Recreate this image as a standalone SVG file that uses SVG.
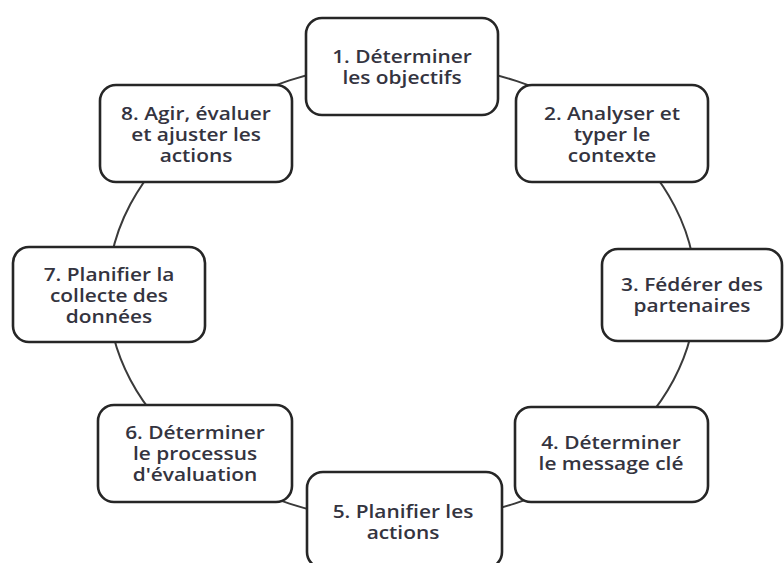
<svg xmlns="http://www.w3.org/2000/svg" width="784" height="563" viewBox="0 0 784 563">
<style>
.box{fill:#fff;stroke:#262626;stroke-width:2.6}
.lbl{font-family:"Open Sans","Noto Sans",sans-serif;font-size:18px;font-weight:600;fill:#34343f;text-anchor:middle}
.conn{fill:none;stroke:#3a3a3a;stroke-width:2}
</style>
<rect width="784" height="563" fill="#fff"/>
<g id="connectors">
<path class="conn" d="M402,63 A294,229 0 0,1 613.5,132.8"/>
<path class="conn" d="M613.5,132.8 A294,229 0 0,1 696,292"/>
<path class="conn" d="M696,292 A294,229 0 0,1 610,454"/>
<path class="conn" d="M610,454 A294,229 0 0,1 402,521"/>
<path class="conn" d="M402,521 A294,229 0 0,1 194,454"/>
<path class="conn" d="M194,454 A294,229 0 0,1 108,292"/>
<path class="conn" d="M108,292 A294,229 0 0,1 194,130"/>
<path class="conn" d="M194,130 A294,229 0 0,1 402,63"/>
</g>
<g id="node1">
<rect class="box" x="306" y="18" width="192" height="97" rx="16"/>
<g transform="translate(402,0) scale(1.16,1)">
<text class="lbl" x="0" y="63">1. Déterminer</text>
<text class="lbl" x="0" y="84">les objectifs</text>
</g>
</g>
<g id="node2">
<rect class="box" x="516" y="85" width="192" height="97" rx="16"/>
<g transform="translate(612,0) scale(1.16,1)">
<text class="lbl" x="0" y="120">2. Analyser et</text>
<text class="lbl" x="0" y="141">typer le</text>
<text class="lbl" x="0" y="162">contexte</text>
</g>
</g>
<g id="node3">
<rect class="box" x="602" y="249" width="180" height="92" rx="16"/>
<g transform="translate(692,0) scale(1.16,1)">
<text class="lbl" x="0" y="291">3. Fédérer des</text>
<text class="lbl" x="0" y="312">partenaires</text>
</g>
</g>
<g id="node4">
<rect class="box" x="515" y="407" width="193" height="95" rx="16"/>
<g transform="translate(611,0) scale(1.16,1)">
<text class="lbl" x="0" y="449">4. Déterminer</text>
<text class="lbl" x="0" y="470">le message clé</text>
</g>
</g>
<g id="node5">
<rect class="box" x="307" y="472" width="195" height="96" rx="16"/>
<g transform="translate(403,0) scale(1.16,1)">
<text class="lbl" x="0" y="518">5. Planifier les</text>
<text class="lbl" x="0" y="539">actions</text>
</g>
</g>
<g id="node6">
<rect class="box" x="98" y="405" width="194" height="97" rx="16"/>
<g transform="translate(195,0) scale(1.16,1)">
<text class="lbl" x="0" y="439">6. Déterminer</text>
<text class="lbl" x="0" y="460">le processus</text>
<text class="lbl" x="0" y="481">d'évaluation</text>
</g>
</g>
<g id="node7">
<rect class="box" x="13" y="247" width="192" height="95" rx="16"/>
<g transform="translate(109,0) scale(1.16,1)">
<text class="lbl" x="0" y="281">7. Planifier la</text>
<text class="lbl" x="0" y="302">collecte des</text>
<text class="lbl" x="0" y="323">données</text>
</g>
</g>
<g id="node8">
<rect class="box" x="100" y="85" width="192" height="97" rx="16"/>
<g transform="translate(196,0) scale(1.16,1)">
<text class="lbl" x="0" y="120">8. Agir, évaluer</text>
<text class="lbl" x="0" y="141">et ajuster les</text>
<text class="lbl" x="0" y="162">actions</text>
</g>
</g>
</svg>
